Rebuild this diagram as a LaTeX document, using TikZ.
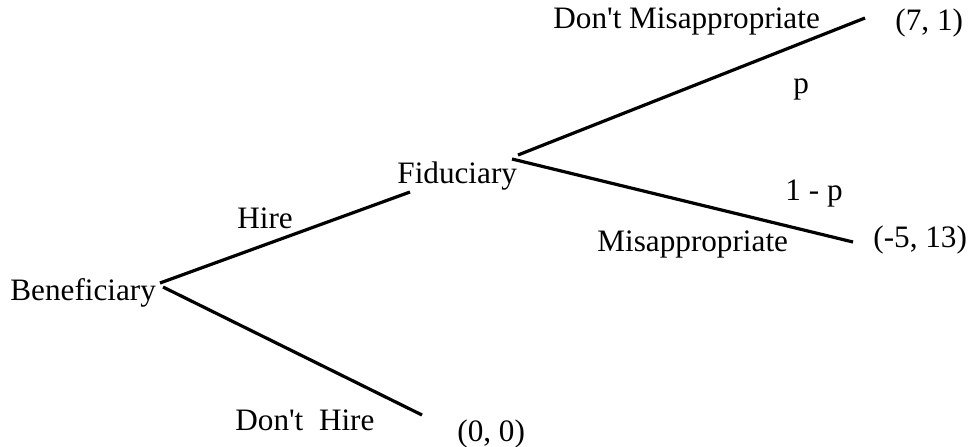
\documentclass[tikz,border=0pt]{standalone}
\usepackage{fontspec}
\setmainfont{Liberation Serif}
\usetikzlibrary{positioning}

\begin{document}
\begin{tikzpicture}[
  x=0.5pt, y=-0.5pt,
  lbl/.style={anchor=base west, inner sep=0pt, font=\fontsize{15.6}{18}\selectfont},
  branch/.style={line width=1.6pt, line cap=butt},
]
\useasboundingbox (0,0) rectangle (974,446);

%% Decision points and branch ends
\coordinate (benup)  at (160,283);
\coordinate (bendn)  at (163,287);
\coordinate (hire)   at (410,192);
\coordinate (nohire) at (422,415);
\coordinate (fidup)  at (518,155);
\coordinate (fiddn)  at (512,159);
\coordinate (honest) at (865,18);
\coordinate (steal)  at (853,242);

\draw[branch] (benup) -- (hire);
\draw[branch] (bendn) -- (nohire);
\draw[branch] (fidup) -- (honest);
\draw[branch] (fiddn) -- (steal);

%% Players
\node[lbl] (ben) at (10,300)  {Beneficiary};
\node[lbl] (fid) at (397,183) {Fiduciary};

%% Moves
\node[lbl] (hirelbl)   at (237,228) {Hire};
\node[lbl] (nohirelbl) at (235,430) {Don\textquotesingle t\ \ Hire};
\node[lbl] (honestlbl) at (553,28)  {Don\textquotesingle t Misappropriate};
\node[lbl] (steallbl)  at (597,251) {Misappropriate};

%% Probabilities
\node[lbl] (prob)  at (793,93)  {p};
\node[lbl] (cprob) at (785,200) {1 - p};

%% Payoffs
\node[lbl] (payhonest) at (895,30)  {(7, 1)};
\node[lbl] (paysteal)  at (873,247) {(-5, 13)};
\node[lbl] (paynohire) at (457,441) {(0, 0)};
\end{tikzpicture}
\end{document}
